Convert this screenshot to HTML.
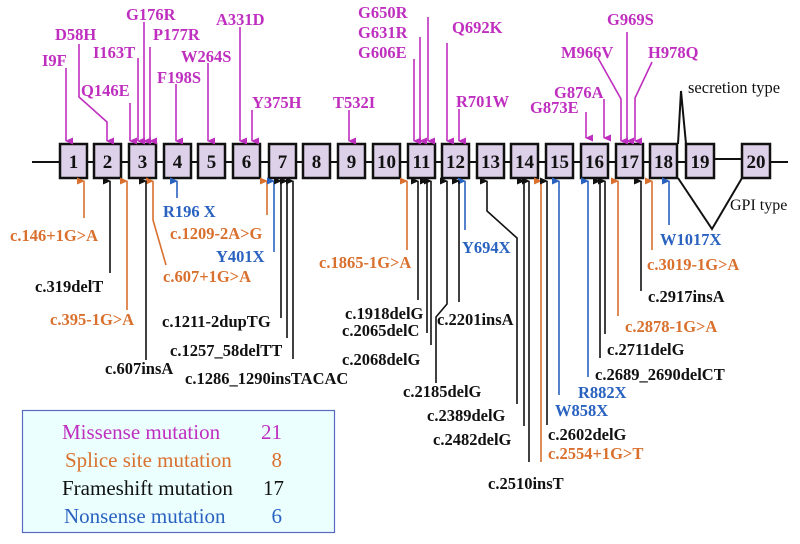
<!DOCTYPE html>
<html><head><meta charset="utf-8"><style>
html,body{margin:0;padding:0;background:#fff;}
svg text{font-family:"Liberation Serif",serif;}
.m{fill:#bf2fbf;font-weight:bold;font-size:16.5px;}
.o{fill:#d9702e;font-weight:bold;font-size:16.5px;}
.b{fill:#2a62c0;font-weight:bold;font-size:16.5px;}
.k{fill:#111;font-weight:bold;font-size:16.5px;}
.n{font-size:19px;font-weight:bold;text-anchor:middle;fill:#111;}
</style></head><body>
<svg width="800" height="539" viewBox="0 0 800 539" xmlns="http://www.w3.org/2000/svg">
<defs>
<marker id="am" markerWidth="7" markerHeight="8" refX="3.5" refY="7" orient="auto-start-reverse" markerUnits="userSpaceOnUse" viewBox="0 0 7 8"><path d="M0,0 L3.5,8 L7,0 Z" fill="#bf2fbf"/></marker>
<marker id="ao" markerWidth="7" markerHeight="8" refX="3.5" refY="7" orient="auto-start-reverse" markerUnits="userSpaceOnUse" viewBox="0 0 7 8"><path d="M0,0 L3.5,8 L7,0 Z" fill="#d9702e"/></marker>
<marker id="ab" markerWidth="7" markerHeight="8" refX="3.5" refY="7" orient="auto-start-reverse" markerUnits="userSpaceOnUse" viewBox="0 0 7 8"><path d="M0,0 L3.5,8 L7,0 Z" fill="#2a62c0"/></marker>
<marker id="ak" markerWidth="7" markerHeight="8" refX="3.5" refY="7" orient="auto-start-reverse" markerUnits="userSpaceOnUse" viewBox="0 0 7 8"><path d="M0,0 L3.5,8 L7,0 Z" fill="#111"/></marker>
</defs>
<line x1="32" y1="162" x2="686" y2="162" stroke="#111" stroke-width="2"/>
<line x1="714" y1="159" x2="742" y2="159" stroke="#111" stroke-width="2"/>
<line x1="770" y1="162" x2="788" y2="162" stroke="#111" stroke-width="2"/>
<polyline points="678,144 681,91 686,144" fill="none" stroke="#111" stroke-width="2"/>
<polyline points="678,178 712,229 742,178" fill="none" stroke="#111" stroke-width="2"/>
<text x="688" y="93" font-size="16.5" fill="#111">secretion type</text>
<text x="730" y="210" font-size="16" fill="#111">GPI type</text>
<g fill="#ddd1e9" stroke="#111" stroke-width="2.5">
<rect x="60" y="144" width="27" height="34"/><rect x="94" y="144" width="27" height="34"/>
<rect x="129" y="144" width="27" height="34"/><rect x="164" y="144" width="27" height="34"/>
<rect x="198" y="144" width="27" height="34"/><rect x="233" y="144" width="27" height="34"/>
<rect x="269" y="144" width="27" height="34"/><rect x="303" y="144" width="27" height="34"/>
<rect x="338" y="144" width="27" height="34"/><rect x="373" y="144" width="27" height="34"/>
<rect x="408" y="144" width="27" height="34"/><rect x="442" y="144" width="27" height="34"/>
<rect x="477" y="144" width="27" height="34"/><rect x="511" y="144" width="27" height="34"/>
<rect x="546" y="144" width="27" height="34"/><rect x="581" y="144" width="27" height="34"/>
<rect x="616" y="144" width="27" height="34"/><rect x="650" y="144" width="27" height="34"/>
<rect x="686" y="144" width="28" height="34"/><rect x="742" y="144" width="28" height="34"/>
</g>
<g>
<text class="n" x="73.5" y="168">1</text><text class="n" x="107.5" y="168">2</text>
<text class="n" x="142.5" y="168">3</text><text class="n" x="177.5" y="168">4</text>
<text class="n" x="211.5" y="168">5</text><text class="n" x="246.5" y="168">6</text>
<text class="n" x="282.5" y="168">7</text><text class="n" x="316.5" y="168">8</text>
<text class="n" x="351.5" y="168">9</text><text class="n" x="386.5" y="168">10</text>
<text class="n" x="421.5" y="168">11</text><text class="n" x="455.5" y="168">12</text>
<text class="n" x="490.5" y="168">13</text><text class="n" x="524.5" y="168">14</text>
<text class="n" x="559.5" y="168">15</text><text class="n" x="594.5" y="168">16</text>
<text class="n" x="629.5" y="168">17</text><text class="n" x="663.5" y="168">18</text>
<text class="n" x="700" y="168">19</text><text class="n" x="756" y="168">20</text>
</g>
<g fill="none" stroke="#bf2fbf" stroke-width="1.6" marker-end="url(#am)">
<line x1="66" y1="68" x2="66" y2="141"/>
<polyline points="79,44 79,97 107,122 107,141"/>
<line x1="130" y1="103" x2="130" y2="141"/>
<line x1="138" y1="58" x2="138" y2="141"/>
<line x1="144" y1="22" x2="144" y2="141"/>
<line x1="150" y1="47" x2="150" y2="141"/>
<line x1="176" y1="84" x2="176" y2="141"/>
<line x1="208" y1="63" x2="208" y2="141"/>
<line x1="240" y1="27" x2="240" y2="141"/>
<line x1="252" y1="110" x2="252" y2="141"/>
<line x1="349" y1="110" x2="349" y2="141"/>
<line x1="414" y1="59" x2="414" y2="141"/>
<line x1="420" y1="37" x2="420" y2="141"/>
<line x1="428" y1="17" x2="428" y2="141"/>
<line x1="447" y1="43" x2="447" y2="141"/>
<line x1="459" y1="109" x2="459" y2="141"/>
<line x1="586" y1="112" x2="586" y2="138"/>
<line x1="604" y1="99" x2="604" y2="138"/>
<polyline points="598,58 621,99 621,141"/>
<line x1="627" y1="32" x2="627" y2="141"/>
<polyline points="652,62 635,98 635,141"/>
</g>
<g>
<text class="m" x="42" y="66">I9F</text>
<text class="m" x="55" y="40">D58H</text>
<text class="m" x="81" y="96">Q146E</text>
<text class="m" x="93" y="58">I163T</text>
<text class="m" x="126" y="20">G176R</text>
<text class="m" x="153" y="40">P177R</text>
<text class="m" x="157" y="83">F198S</text>
<text class="m" x="181" y="62">W264S</text>
<text class="m" x="216" y="25">A331D</text>
<text class="m" x="252" y="108">Y375H</text>
<text class="m" x="333" y="108">T532I</text>
<text class="m" x="358" y="18">G650R</text>
<text class="m" x="358" y="38">G631R</text>
<text class="m" x="358" y="58">G606E</text>
<text class="m" x="452" y="33">Q692K</text>
<text class="m" x="456" y="107">R701W</text>
<text class="m" x="530" y="113">G873E</text>
<text class="m" x="554" y="98">G876A</text>
<text class="m" x="561" y="58">M966V</text>
<text class="m" x="607" y="25">G969S</text>
<text class="m" x="648" y="58">H978Q</text>
</g>
<g fill="none" stroke-width="1.6">
<g stroke="#d9702e" marker-end="url(#ao)">
<line x1="84" y1="218" x2="84" y2="181"/>
<line x1="127" y1="310" x2="127" y2="181"/>
<polyline points="166,265 153,220 153,181"/>
<line x1="267" y1="215" x2="267" y2="181"/>
<line x1="407" y1="250" x2="407" y2="181"/>
<line x1="541" y1="462" x2="541" y2="181"/>
<line x1="618" y1="316" x2="618" y2="181"/>
<line x1="652" y1="250" x2="652" y2="181"/>
</g>
<g stroke="#2a62c0" marker-end="url(#ab)">
<line x1="177" y1="198" x2="177" y2="181"/>
<line x1="274" y1="252" x2="274" y2="181"/>
<line x1="465" y1="230" x2="465" y2="181"/>
<line x1="559" y1="395" x2="559" y2="181"/>
<line x1="588" y1="377" x2="588" y2="181"/>
<line x1="669" y1="225" x2="669" y2="181"/>
</g>
<g stroke="#111" marker-end="url(#ak)">
<line x1="110" y1="273" x2="110" y2="181"/>
<line x1="146" y1="360" x2="146" y2="181"/>
<line x1="281" y1="318" x2="281" y2="181"/>
<line x1="287" y1="338" x2="287" y2="181"/>
<line x1="293" y1="359" x2="293" y2="181"/>
<line x1="418" y1="300" x2="418" y2="181"/>
<line x1="427" y1="333" x2="427" y2="181"/>
<line x1="431" y1="345" x2="431" y2="181"/>
<polyline points="436,383 436,317 447,304 447,181"/>
<line x1="459" y1="302" x2="459" y2="181"/>
<polyline points="517,404 517,238 487,211 487,181"/>
<line x1="524" y1="426" x2="524" y2="181"/>
<line x1="529" y1="462" x2="529" y2="181"/>
<line x1="547" y1="425" x2="547" y2="181"/>
<line x1="600" y1="358" x2="600" y2="181"/>
<line x1="605" y1="334" x2="605" y2="181"/>
<line x1="641" y1="291" x2="641" y2="181"/>
</g>
</g>
<g>
<text class="o" x="10" y="241">c.146+1G&gt;A</text>
<text class="k" x="35" y="292">c.319delT</text>
<text class="o" x="50" y="325">c.395-1G&gt;A</text>
<text class="k" x="105" y="374">c.607insA</text>
<text class="o" x="163" y="282">c.607+1G&gt;A</text>
<text class="b" x="163" y="217">R196 X</text>
<text class="o" x="170" y="239">c.1209-2A&gt;G</text>
<text class="b" x="216" y="262">Y401X</text>
<text class="k" x="162" y="327">c.1211-2dupTG</text>
<text class="k" x="170" y="356">c.1257_58delTT</text>
<text class="k" x="185" y="384">c.1286_1290insTACAC</text>
<text class="o" x="319" y="268">c.1865-1G&gt;A</text>
<text class="k" x="345" y="319">c.1918delG</text>
<text class="k" x="342" y="336">c.2065delC</text>
<text class="k" x="342" y="365">c.2068delG</text>
<text class="k" x="403" y="397">c.2185delG</text>
<text class="k" x="437" y="325">c.2201insA</text>
<text class="b" x="462" y="253">Y694X</text>
<text class="k" x="427" y="421">c.2389delG</text>
<text class="k" x="433" y="445">c.2482delG</text>
<text class="k" x="488" y="489">c.2510insT</text>
<text class="o" x="548" y="459">c.2554+1G&gt;T</text>
<text class="k" x="548" y="440">c.2602delG</text>
<text class="b" x="555" y="416">W858X</text>
<text class="b" x="578" y="398">R882X</text>
<text class="k" x="595" y="380">c.2689_2690delCT</text>
<text class="k" x="607" y="355">c.2711delG</text>
<text class="o" x="625" y="332">c.2878-1G&gt;A</text>
<text class="k" x="648" y="302">c.2917insA</text>
<text class="o" x="647" y="270">c.3019-1G&gt;A</text>
<text class="b" x="660" y="245">W1017X</text>
</g>
<rect x="22.5" y="410.5" width="312" height="122" fill="#ebffff" stroke="#5a6ac0" stroke-width="1.2"/>
<g font-size="21">
<text x="62" y="439" fill="#bf2fbf">Missense mutation</text><text x="282" y="439" fill="#bf2fbf" text-anchor="end">21</text>
<text x="65" y="467" fill="#d9702e">Splice site mutation</text><text x="282" y="467" fill="#d9702e" text-anchor="end">8</text>
<text x="62" y="495" fill="#111">Frameshift mutation</text><text x="284" y="495" fill="#111" text-anchor="end">17</text>
<text x="64" y="523" fill="#2a62c0">Nonsense mutation</text><text x="282" y="523" fill="#2a62c0" text-anchor="end">6</text>
</g>
</svg>
</body></html>
